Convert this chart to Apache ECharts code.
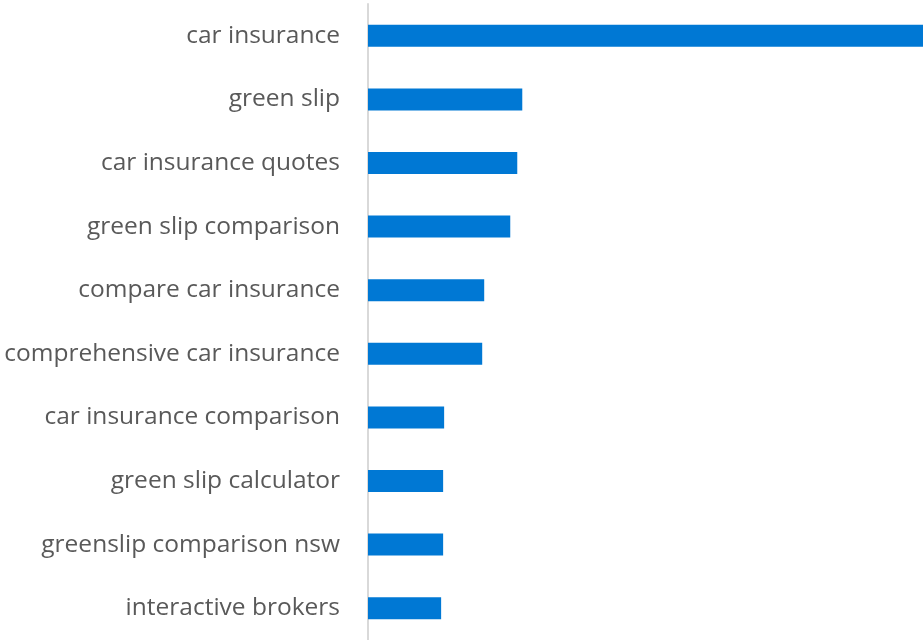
<!DOCTYPE html>
<html>
<head>
<meta charset="utf-8">
<script src="https://cdn.jsdelivr.net/npm/echarts@6/dist/echarts.min.js"></script>
<style>
  html, body { margin: 0; padding: 0; background: #ffffff; }
  #chart { width: 923px; height: 640px; }
</style>
</head>
<body>
<div id="chart"></div>
<script>
// Search keywords, top to bottom
const keywords = [
  'car insurance',
  'green slip',
  'car insurance quotes',
  'green slip comparison',
  'compare car insurance',
  'comprehensive car insurance',
  'car insurance comparison',
  'green slip calculator',
  'greenslip comparison nsw',
  'interactive brokers'
];

// Relative volume per keyword
const volumes = [554, 154, 149, 142, 116, 114, 76, 75, 75, 73];

const chart = echarts.init(document.getElementById('chart'));

chart.setOption({
  animation: false,
  grid: {
    left: 368,
    right: 0,
    top: 4,
    height: 644,
    containLabel: false
  },
  xAxis: {
    type: 'value',
    min: 0,
    max: 554,
    show: false
  },
  yAxis: {
    type: 'category',
    data: keywords,
    inverse: true,
    axisLine: { show: true, lineStyle: { color: '#d9d9d9', width: 2 } },
    axisTick: { show: false },
    axisLabel: {
      margin: 28,
      color: '#595959',
      fontFamily: 'Open Sans',
      fontSize: 24.5
    }
  },
  series: [{
    type: 'bar',
    data: volumes,
    barWidth: 22,
    itemStyle: { color: '#0078d4' }
  }]
});
</script>
</body>
</html>
